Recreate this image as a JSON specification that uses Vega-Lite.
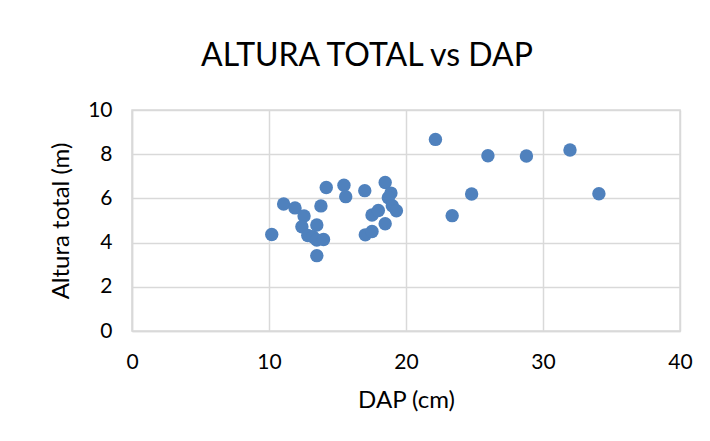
{
  "$schema": "https://vega.github.io/schema/vega-lite/v6.json",
  "autosize": "none",
  "width": 548,
  "height": 221,
  "padding": {"left": 132, "top": 110, "right": 30, "bottom": 110},
  "background": "white",
  "title": {
    "text": "ALTURA TOTAL vs DAP",
    "font": "Lato",
    "fontSize": 32,
    "fontWeight": "normal",
    "color": "#000000",
    "anchor": "middle",
    "dx": -39,
    "dy": 41,
    "baseline": "alphabetic",
    "offset": 42
  },
  "data": {
    "values": [
      {"DAP": 10.2, "Altura": 4.37},
      {"DAP": 11.07, "Altura": 5.75},
      {"DAP": 11.9, "Altura": 5.57},
      {"DAP": 12.56, "Altura": 5.2},
      {"DAP": 12.4, "Altura": 4.72},
      {"DAP": 12.83, "Altura": 4.32},
      {"DAP": 13.2, "Altura": 4.27},
      {"DAP": 13.49, "Altura": 4.8},
      {"DAP": 13.49, "Altura": 4.12},
      {"DAP": 13.98, "Altura": 4.14},
      {"DAP": 13.49, "Altura": 3.41},
      {"DAP": 13.79, "Altura": 5.66},
      {"DAP": 14.18, "Altura": 6.49},
      {"DAP": 15.47, "Altura": 6.6},
      {"DAP": 15.6, "Altura": 6.08},
      {"DAP": 16.99, "Altura": 6.35},
      {"DAP": 17.03, "Altura": 4.35},
      {"DAP": 17.52, "Altura": 4.5},
      {"DAP": 17.52, "Altura": 5.25},
      {"DAP": 17.98, "Altura": 5.45},
      {"DAP": 18.48, "Altura": 6.72},
      {"DAP": 18.9, "Altura": 6.24},
      {"DAP": 18.71, "Altura": 6.03},
      {"DAP": 19.0, "Altura": 5.67},
      {"DAP": 19.3, "Altura": 5.44},
      {"DAP": 18.48, "Altura": 4.85},
      {"DAP": 22.15, "Altura": 8.67},
      {"DAP": 23.37, "Altura": 5.22},
      {"DAP": 24.79, "Altura": 6.2},
      {"DAP": 25.98, "Altura": 7.93},
      {"DAP": 28.79, "Altura": 7.92},
      {"DAP": 31.97, "Altura": 8.19},
      {"DAP": 34.08, "Altura": 6.21}
    ]
  },
  "mark": {"type": "point", "filled": true, "shape": "circle", "size": 180, "color": "#4f81bd", "opacity": 1},
  "encoding": {
    "x": {
      "field": "DAP", "type": "quantitative",
      "scale": {"domain": [0, 40], "nice": false, "zero": true},
      "axis": {"values": [0, 10, 20, 30, 40], "title": "DAP (cm)", "titlePadding": 16, "labelFlush": false}
    },
    "y": {
      "field": "Altura", "type": "quantitative",
      "scale": {"domain": [0, 10], "nice": false},
      "axis": {"values": [0, 2, 4, 6, 8, 10], "title": "Altura total (m)", "titlePadding": 14}
    }
  },
  "config": {
    "view": {"stroke": "#d9d9d9", "strokeWidth": 1.5},
    "axis": {
      "grid": true,
      "gridColor": "#d9d9d9",
      "gridWidth": 1.5,
      "domainColor": "#d9d9d9",
      "domainWidth": 1.5,
      "ticks": false,
      "labelFont": "Lato",
      "labelFontSize": 21,
      "labelColor": "#000000",
      "labelPadding": 20,
      "titleFont": "Lato",
      "titleFontSize": 24,
      "titleFontWeight": "normal",
      "titleColor": "#000000"
    }
  }
}
